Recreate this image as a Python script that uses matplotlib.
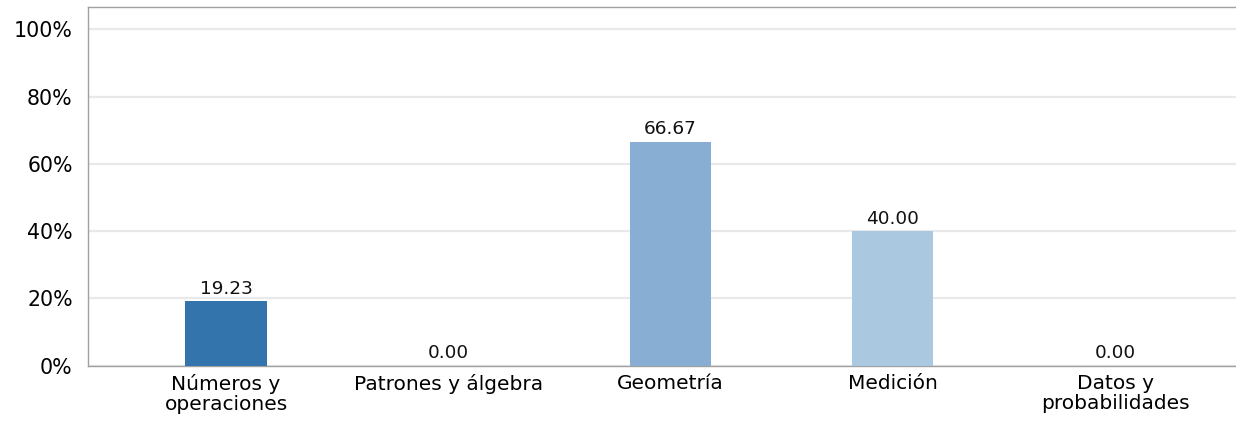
import matplotlib.pyplot as plt
from matplotlib.ticker import FuncFormatter

# --------------------------------------------------
# Data
# --------------------------------------------------
categories = ["Números y\noperaciones", "Patrones y álgebra", "Geometría",
              "Medición", "Datos y\nprobabilidades"]
values = [19.23, 0.00, 66.67, 40.00, 0.00]
colors = ["#3474ad", "#3474ad", "#88aed3", "#aac8e0", "#aac8e0"]
yticks = [0, 20, 40, 60, 80, 100]

# --------------------------------------------------
# Plot
# --------------------------------------------------
fig = plt.figure(figsize=(12.36, 4.26), dpi=100)
ax = fig.add_axes([88 / 1236, 1 - 365.6 / 426, 1 - 88 / 1236, (365.6 - 7.3) / 426])

x = range(len(categories))
bars = ax.bar(x, values, width=0.365, color=colors, zorder=3)

for b, v in zip(bars, values):
    ax.text(b.get_x() + b.get_width() / 2, v + 1.0, f"{v:.2f}",
            ha="center", va="bottom", fontsize=13.3, color="#111111", zorder=4)

ax.set_xlim(-0.621, 4.544)
ax.set_ylim(0, 106.6)
ax.set_yticks(yticks)
ax.yaxis.set_major_formatter(FuncFormatter(lambda v, _: f"{v:.0f}%"))
ax.set_xticks(list(x))
ax.set_xticklabels(categories, fontsize=14.5, linespacing=1.05)
ax.tick_params(axis="y", labelsize=14.8, length=0, pad=11)
ax.tick_params(axis="x", length=0, pad=6)

ax.grid(axis="y", color="#e9e9e9", linewidth=1.6, zorder=0)
ax.grid(axis="x", visible=False)
for side in ["left", "top", "bottom"]:
    ax.spines[side].set_color("#a0a0a0")
    ax.spines[side].set_linewidth(1.0)
ax.spines["right"].set_visible(False)

fig.savefig("out.png", dpi=100)
